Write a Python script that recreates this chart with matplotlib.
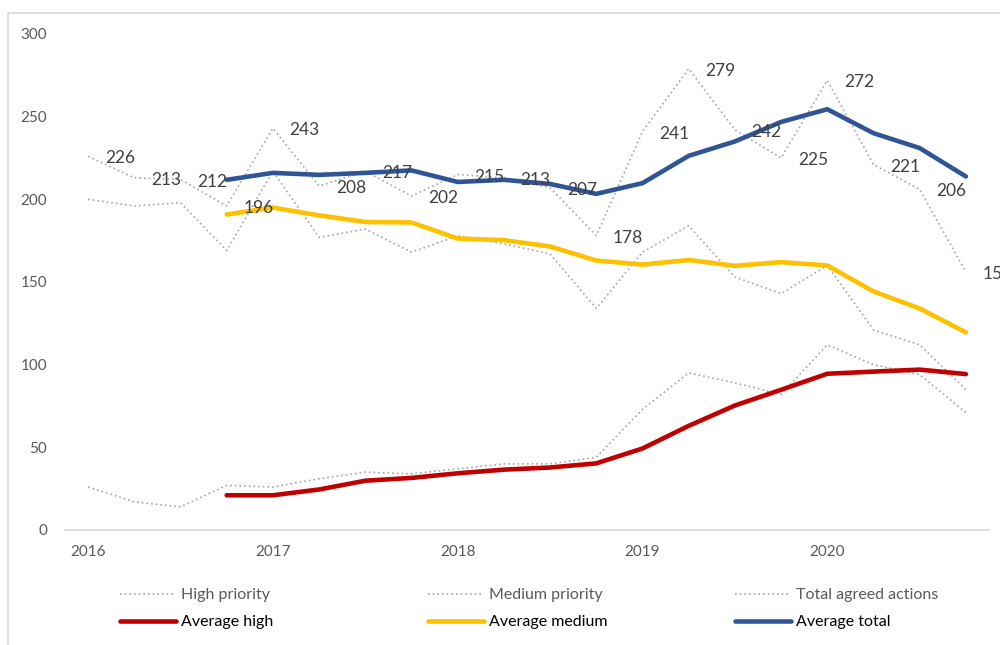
import numpy as np
import matplotlib.pyplot as plt
from matplotlib.patches import Rectangle

plt.rcParams["font.family"] = ["Lato", "DejaVu Sans"]

# Quarterly counts, 2016 Q1 - 2020 Q4
quarters = np.arange(20)
year_labels = ["2016", "2017", "2018", "2019", "2020"]
high = [26, 17, 14, 27, 26, 31, 35, 34, 37, 40, 40, 44, 73, 95, 89, 82, 112, 100, 94, 71]
medium = [200, 196, 198, 169, 217, 177, 182, 168, 178, 173, 167, 134, 168, 184, 153, 143, 160, 121, 112, 85]
total = [226, 213, 212, 196, 243, 208, 217, 202, 215, 213, 207, 178, 241, 279, 242, 225, 272, 221, 206, 156]

# Averages (first shown in 2016 Q4)
avg_high = [np.nan, np.nan, np.nan, 21.0, 21.0, 24.5, 29.8, 31.5, 34.3, 36.5, 37.8, 40.3,
            49.3, 63.0, 75.3, 84.8, 94.5, 95.8, 97.0, 94.3]
avg_medium = [np.nan, np.nan, np.nan, 190.8, 195.0, 190.3, 186.3, 186.0, 176.3, 175.3, 171.5, 163.0,
              160.5, 163.3, 159.8, 162.0, 160.0, 144.3, 134.0, 119.5]
avg_total = [np.nan, np.nan, np.nan, 211.8, 216.0, 214.8, 216.0, 217.5, 210.5, 211.8, 209.3, 203.3,
             209.8, 226.3, 235.0, 246.8, 254.5, 240.0, 231.0, 213.8]

dot_color = "#A6A6A6"
red, yellow, blue = "#C00000", "#FFC000", "#2F5597"
dotted = dict(color=dot_color, lw=1.2, ls=(0, (1, 1.8)))

fig = plt.figure(figsize=(10, 6.45), dpi=100)
ax = fig.add_axes([0.065, 0.1783, 0.924, 0.769])

ax.plot(quarters, high, **dotted, label="High priority")
ax.plot(quarters, medium, **dotted, label="Medium priority")
ax.plot(quarters, total, **dotted, label="Total agreed actions")
ax.plot(quarters, avg_high, color=red, lw=3.3, solid_capstyle="round", label="Average high")
ax.plot(quarters, avg_medium, color=yellow, lw=3.3, solid_capstyle="round", label="Average medium")
ax.plot(quarters, avg_total, color=blue, lw=3.3, solid_capstyle="round", label="Average total")

# value labels on the total series
for q, v in zip(quarters, total):
    ax.annotate(str(v), (q, v), xytext=(12, -1.5), textcoords="offset points",
                ha="left", va="center", fontsize=12.5, color="#404040",
                annotation_clip=False)

ax.set_xlim(-0.5, 19.5)
ax.set_ylim(0, 300)
ax.set_yticks(range(0, 301, 50))
ax.set_xticks(quarters[::4])
ax.set_xticklabels(year_labels)
ax.tick_params(axis="both", length=0, labelsize=11, labelcolor="#595959")
ax.tick_params(axis="y", pad=13)
ax.tick_params(axis="x", pad=11)
ax.spines[["left", "right", "top"]].set_visible(False)
ax.spines["bottom"].set_color("#D9D9D9")
ax.spines["bottom"].set_linewidth(1.2)

# chart area border
fig.add_artist(Rectangle((0.008, -0.1), 1.2, 1.08, transform=fig.transFigure,
                         fill=False, edgecolor="#D9D9D9", lw=1.2))

# legend: three columns, dotted series on top, averages below
handles, labels = ax.get_legend_handles_labels()
col_x = [0.12, 0.428, 0.735]
for i, x in enumerate(col_x):
    leg = fig.legend([handles[i], handles[i + 3]], [labels[i], labels[i + 3]],
                     loc="upper left", bbox_to_anchor=(x, 0.088), frameon=False,
                     fontsize=11.5, handlelength=3.5, handletextpad=0.35,
                     labelspacing=0.8, borderaxespad=0, borderpad=0)
    leg.get_texts()[0].set_color("#595959")
    leg.get_texts()[1].set_color("black")

fig.savefig("out.png", dpi=100)
